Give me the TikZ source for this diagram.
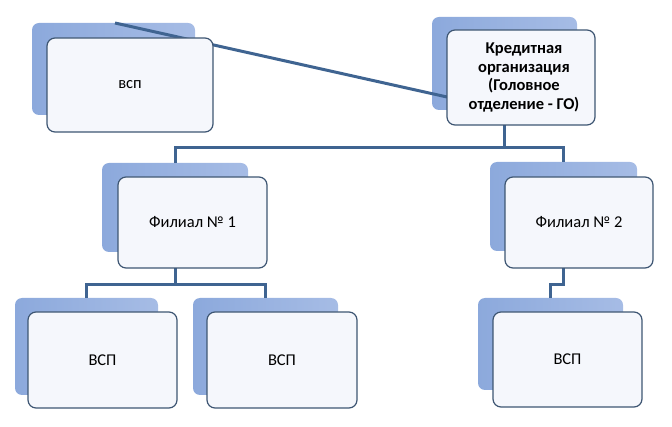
\documentclass[tikz,border=0pt]{standalone}
\usepackage{fontspec}
\setmainfont{Carlito}
\usetikzlibrary{calc}
\definecolor{backA}{HTML}{8CA9DC}
\definecolor{backB}{HTML}{A6BCE5}
\definecolor{frontline}{HTML}{3E5673}
\definecolor{frontfill}{HTML}{F5F7FC}
\definecolor{conn}{HTML}{3F6491}
\tikzset{
  backbox/.style={rounded corners=7pt, left color=backA, right color=backB, draw=none,
    minimum width=#1, minimum height=92pt, inner sep=0pt},
  frontbox/.style={rounded corners=8pt, draw=frontline, line width=1.2pt, fill=frontfill,
    minimum width=#1, minimum height=94pt, inner sep=2pt,
    font=\fontsize{16.5}{19}\selectfont, align=center},
  connector/.style={draw=conn, line width=3pt},
}
\begin{document}
\begin{tikzpicture}[x=1pt,y=-1pt]
\useasboundingbox (0,0) rectangle (672,427);
% back boxes
\node[backbox=163pt] (v0B) at (113.5,69) {};
\node[backbox=145pt, minimum height=93pt] (goB) at (504.5,63.5) {};
\node[backbox=146pt, minimum height=89pt] (f1B) at (175,207.5) {};
\node[backbox=147pt, minimum height=89pt] (f2B) at (563.5,206.5) {};
\node[backbox=143pt, minimum height=97pt] (b1B) at (86.5,346.5) {};
\node[backbox=145pt, minimum height=97pt] (b2B) at (265.5,346.5) {};
\node[backbox=145pt, minimum height=92pt] (b3B) at (550.5,344) {};
% bus levels
\coordinate (bus1) at (0,148);
\coordinate (bus2) at (0,285);
\coordinate (lineStart) at (115,23);
\coordinate (lineEnd) at (447,97);
% tree connectors (behind the front boxes)
\draw[connector] (goB.south) -- (goB.south |- bus1) -| (f1B.north);
\draw[connector] (goB.south |- bus1) -| (f2B.north);
\draw[connector] (f1B.south) -- (f1B.south |- bus2) -| (b1B.north);
\draw[connector] (f1B.south |- bus2) -| (b2B.north);
\draw[connector] (f2B.south) -- (f2B.south |- bus2) -| (b3B.north);
\draw[connector] (lineStart) -- (lineEnd);
% front boxes
\node[frontbox=166pt] (v0) at (130,85) {всп};
\node[frontbox=148pt, minimum height=95pt, font=\fontsize{16.5}{18.5}\selectfont\bfseries] (go) at (521,77.5)
  {\hspace*{6pt}Кредитная\\\hspace*{6pt}организация\\\hspace*{6pt}(Головное\\\hspace*{6pt}отделение - ГО)};
\node[frontbox=149pt, minimum height=91pt] (f1) at (192.5,222.5) {Филиал № 1};
\node[frontbox=148pt, minimum height=91pt] (f2) at (579,222.5) {Филиал № 2};
\node[frontbox=149pt, minimum height=96pt] (b1) at (102.5,360) {ВСП};
\node[frontbox=150pt, minimum height=96pt] (b2) at (282,360) {ВСП};
\node[frontbox=149pt, minimum height=95pt] (b3) at (567.5,359.5) {ВСП};
\end{tikzpicture}
\end{document}
